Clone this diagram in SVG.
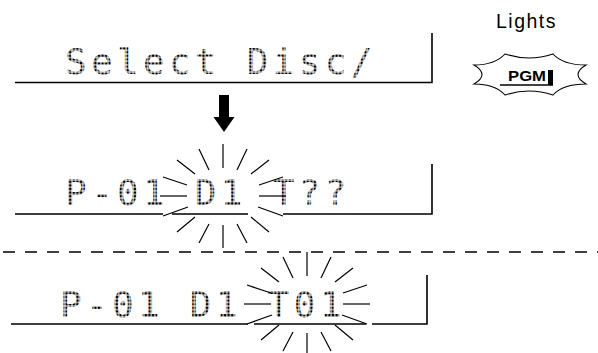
<svg xmlns="http://www.w3.org/2000/svg" xmlns:xlink="http://www.w3.org/1999/xlink" width="598" height="353" viewBox="0 0 598 353">
<style>
.lcd{font-family:"DejaVu Sans Mono","Liberation Mono",monospace;font-size:36px;letter-spacing:4.3px;fill:url(#dots)}
.ln{stroke:#000;stroke-width:1.6;fill:none}
.ray{stroke:#000;stroke-width:1.2;fill:none}
.dash{stroke:#000;stroke-width:1.3;stroke-dasharray:12 10;fill:none}
.lbl{font-family:"Liberation Sans",Arial,sans-serif;fill:#000}
</style>
<defs>
<pattern id="dots" patternUnits="userSpaceOnUse" x="0" y="0" width="3.6" height="3.6">
<rect x="0.5" y="0.5" width="2.6" height="2.6" fill="#000"/>
</pattern>
<g id="burst" class="ray">
<line x1="0" y1="-52" x2="0" y2="-28"/>
<line x1="-24" y1="-47" x2="-14" y2="-26"/>
<line x1="24" y1="-47" x2="14" y2="-26"/>
<line x1="-46" y1="-36" x2="-28" y2="-22"/>
<line x1="46" y1="-36" x2="28" y2="-22"/>
<line x1="-60" y1="-19" x2="-36" y2="-11"/>
<line x1="60" y1="-19" x2="36" y2="-11"/>
<line x1="-63" y1="0" x2="-36" y2="0"/>
<line x1="63" y1="0" x2="36" y2="0"/>
<line x1="-60" y1="20" x2="-35" y2="11"/>
<line x1="60" y1="20" x2="35" y2="11"/>
<line x1="-46" y1="36" x2="-28" y2="21"/>
<line x1="46" y1="36" x2="28" y2="21"/>
<line x1="-24" y1="47" x2="-14" y2="28"/>
<line x1="24" y1="47" x2="14" y2="28"/>
<line x1="0" y1="52" x2="0" y2="29"/>
</g>
</defs>
<rect width="598" height="353" fill="#fff"/>

<g id="display-1">
<text class="lcd" x="65" y="74">Select Disc/</text>
<path class="ln" d="M15,82.5 H432 V33"/>
</g>

<g id="display-2">
<text class="lcd" x="65" y="204.5">P-01 D1 T??</text>
<path class="ln" d="M15,214 H163 M172,214 H248 M283,214 H432 V164"/>
<use xlink:href="#burst" x="223" y="196"/>
</g>

<g id="divider">
<line class="dash" x1="3" y1="252" x2="598" y2="252"/>
</g>

<g id="display-3">
<text class="lcd" x="60" y="316.5">P-01 D1 T01</text>
<path class="ln" d="M11,324 H248 M254,324 H366 M372,324 H427 V275"/>
<use xlink:href="#burst" x="307" y="304"/>
</g>

<g id="connectors">
<rect x="219" y="95" width="10" height="23" fill="#000"/>
<polygon points="213.5,117 234.5,117 224,132" fill="#000"/>
</g>

<g id="lights">
<text class="lbl" x="496" y="28" font-size="19.5" letter-spacing="1.5">Lights</text>
<path d="M474,65 Q495,65 505,54 Q529,62 553,54 Q563,65 586,65 Q570,74.5 586,84 Q563,84 553,95 Q529,87 505,95 Q495,84 474,84 Q490,74.5 474,65 Z" fill="#fff" stroke="#000" stroke-width="1.1"/>
<text class="lbl" x="508" y="81" font-size="14.5" font-weight="bold" textLength="38" lengthAdjust="spacingAndGlyphs">PGM</text>
<rect x="548" y="70" width="5" height="15" fill="#000"/>
<line x1="500" y1="85" x2="553" y2="85" stroke="#000" stroke-width="1.6"/>
</g>
</svg>
